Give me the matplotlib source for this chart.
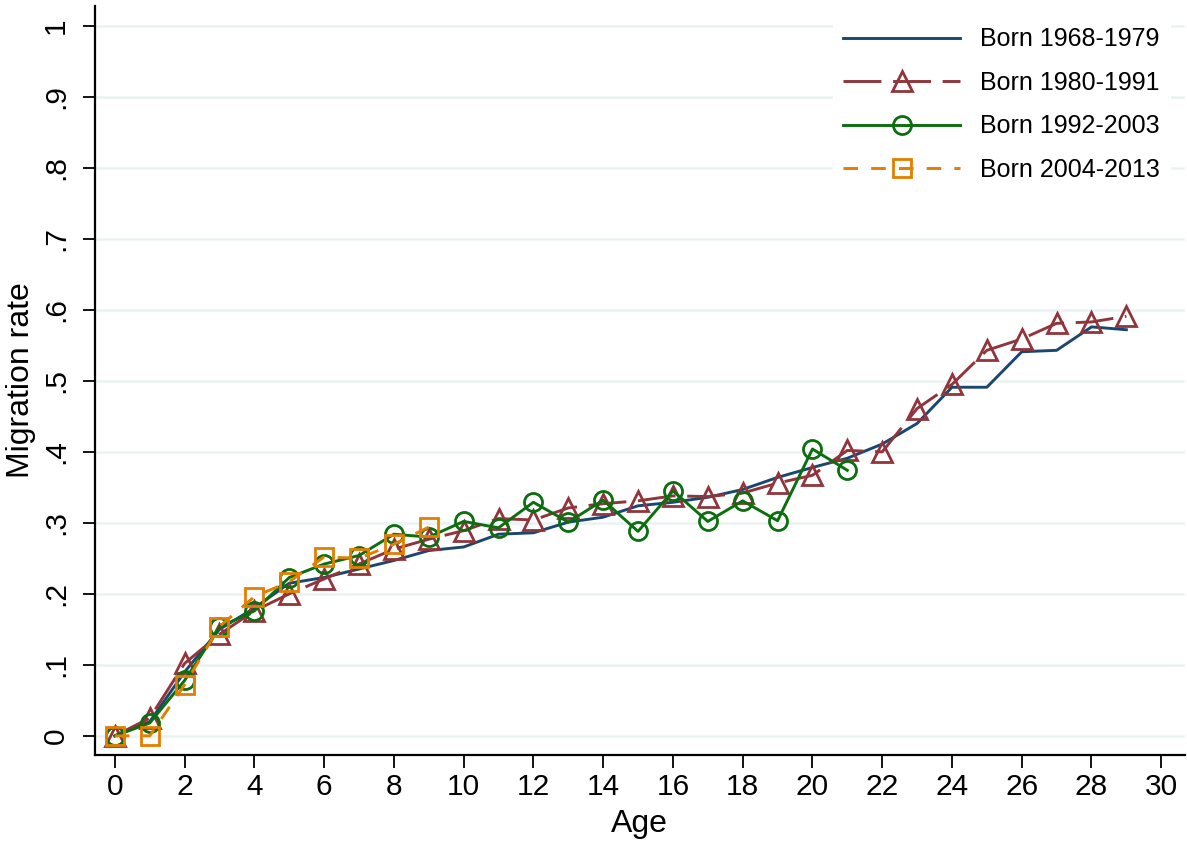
import numpy as np
import matplotlib
matplotlib.use("Agg")
import matplotlib.pyplot as plt

plt.rcParams['font.family'] = ['Liberation Sans', 'DejaVu Sans']

# migration rate by age, for each birth cohort
ages_1968 = np.arange(0, 30)
rate_1968 = [0.0, 0.02, 0.09, 0.15, 0.18, 0.215, 0.223, 0.235, 0.247, 0.261,
             0.266, 0.284, 0.286, 0.301, 0.308, 0.324, 0.329, 0.336, 0.347, 0.364,
             0.378, 0.391, 0.411, 0.44, 0.491, 0.491, 0.541, 0.543, 0.576, 0.572]

ages_1980 = np.arange(0, 30)
rate_1980 = [0.0, 0.025, 0.102, 0.143, 0.176, 0.2, 0.221, 0.242, 0.263, 0.277,
             0.289, 0.306, 0.304, 0.321, 0.327, 0.331, 0.338, 0.337, 0.342, 0.356,
             0.367, 0.402, 0.40, 0.461, 0.495, 0.543, 0.559, 0.581, 0.583, 0.591]

ages_1992 = np.arange(0, 22)
rate_1992 = [0.0, 0.018, 0.078, 0.153, 0.176, 0.223, 0.242, 0.254, 0.284, 0.28,
             0.302, 0.293, 0.329, 0.301, 0.332, 0.288, 0.345, 0.302, 0.331, 0.303,
             0.404, 0.374]

ages_2004 = np.arange(0, 10)
rate_2004 = [0.0, 0.0, 0.072, 0.154, 0.196, 0.217, 0.252, 0.25, 0.27, 0.294]

labels = ["Born 1968-1979", "Born 1980-1991", "Born 1992-2003", "Born 2004-2013"]
x_ticks = np.arange(0, 31, 2)
y_ticks = np.arange(0, 1.01, 0.1)
y_tick_labels = ["0", ".1", ".2", ".3", ".4", ".5", ".6", ".7", ".8", ".9", "1"]

fig = plt.figure(figsize=(11.87, 8.42), dpi=100)
ax = fig.add_axes([0.080, 0.1033, 0.918, 0.8896])

lw = 2.1
ax.plot(ages_1968, rate_1968, color="#1a476f", lw=lw, label=labels[0])
ax.plot(ages_1980, rate_1980, color="#90353b", lw=lw, dashes=(13, 4),
        marker="^", ms=15, mfc="none", mew=2.0, label=labels[1])
ax.plot(ages_1992, rate_1992, color="#0b6e0f", lw=lw,
        marker="o", ms=13, mfc="none", mew=2.0, label=labels[2])
ax.plot(ages_2004, rate_2004, color="#e37e00", lw=lw, dashes=(5, 4.5),
        marker="s", ms=12.5, mfc="none", mew=2.0, label=labels[3])

ax.set_xlim(-0.57, 30.67)
ax.set_ylim(-0.027, 1.028)
ax.set_xticks(x_ticks)
ax.set_yticks(y_ticks)
ax.set_yticklabels(y_tick_labels, rotation=90, va="center")
ax.tick_params(axis="both", labelsize=21.5, length=9, width=1.3, direction="out")
ax.tick_params(axis="x", pad=4)
ax.tick_params(axis="y", pad=9)
ax.set_xlabel("Age", fontsize=23, labelpad=6)
ax.set_ylabel("Migration rate", fontsize=23, labelpad=4)

ax.grid(axis="y", color="#eaf2f3", lw=1.8)
ax.set_axisbelow(True)
for s in ["top", "right"]:
    ax.spines[s].set_visible(False)
for s in ["left", "bottom"]:
    ax.spines[s].set_linewidth(1.6)

leg = ax.legend(loc="upper right", fontsize=18, frameon=True, handlelength=4.7,
                handletextpad=0.8, labelspacing=0.78, borderaxespad=0.1,
                bbox_to_anchor=(0.989, 0.988))
leg.get_frame().set_facecolor("white")
leg.get_frame().set_edgecolor("white")
leg.get_frame().set_alpha(1)

fig.savefig("out.png", dpi=100)
